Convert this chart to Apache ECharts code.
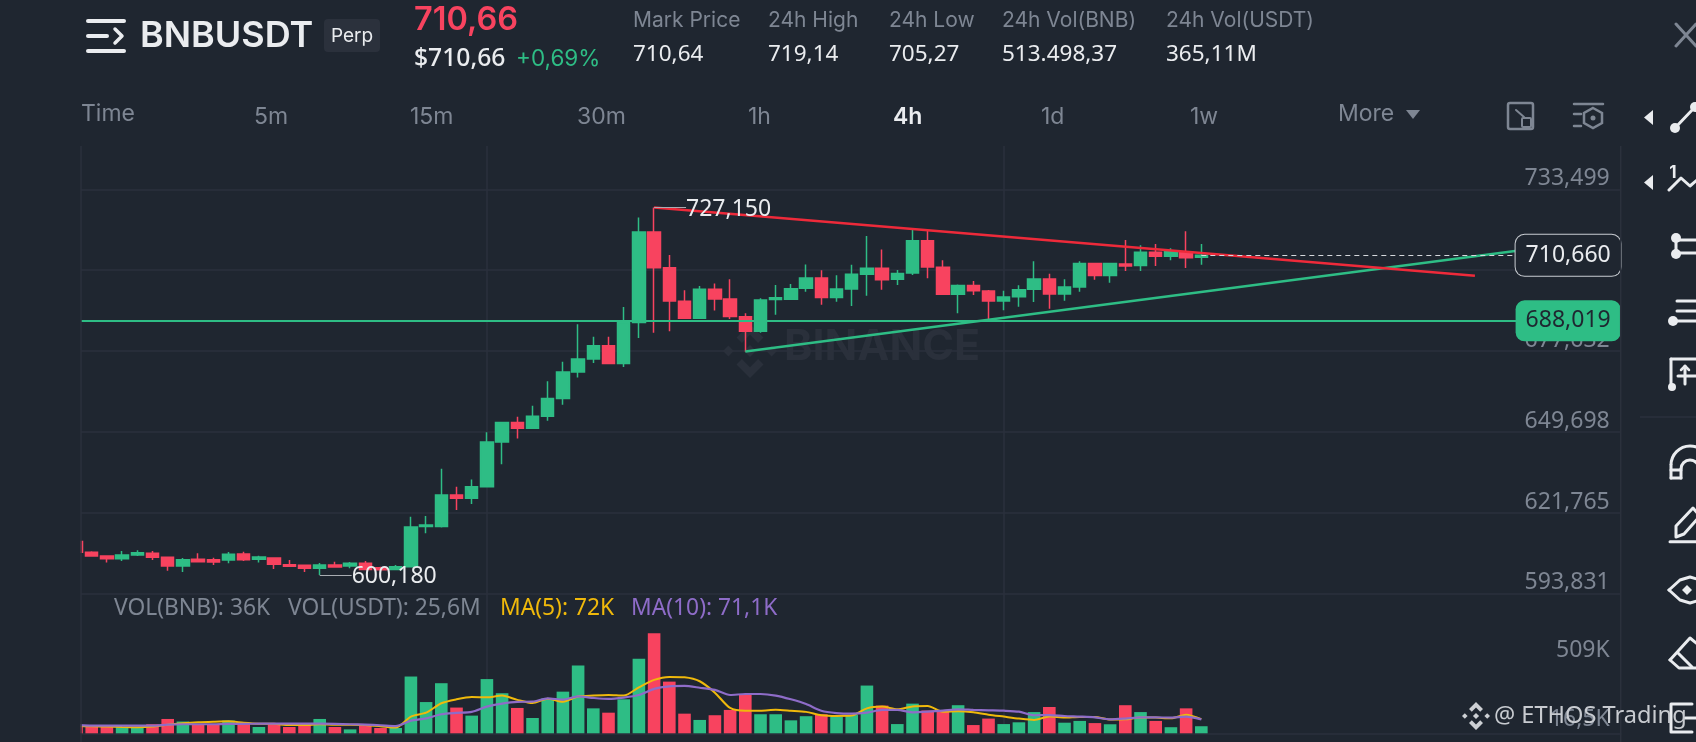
<!DOCTYPE html>
<html><head><meta charset="utf-8">
<style>html,body{margin:0;padding:0;background:#1f2630;}#c{width:1696px;height:742px;}</style>
<script src="https://cdn.jsdelivr.net/npm/echarts@6/dist/echarts.min.js"></script>
</head><body><div id="c"></div>
<script>
const opens=[611.7,608.0,606.7,605.8,607.07,607.64,606.26,603.27,605.6,605.45,605.34,607.4,605.6,606.0,603.7,603.5,602.46,603.6,603.27,604.2,602.7,602.1,603.0,616.9,616.9,627.8,626.65,630.7,646.1,652.9,650.85,655.0,661.2,670.3,674.8,679.4,673.3,687.4,718.7,706.4,694.75,688.9,698.9,695.6,689.45,684.4,695.4,695.45,699.25,702.8,696.1,699.0,704.1,706.2,702.35,704.55,715.7,706.5,697.2,700.2,698.3,694.9,696.35,698.9,702.45,697.3,699.7,707.8,703.65,707.7,707.1,711.7,710.3,711.9,710.0];
const closes=[608.0,606.72,605.8,607.07,607.87,606.26,603.27,605.45,604.76,604.65,607.3,605.45,606.4,603.84,603.15,602.46,603.6,602.9,604.2,602.1,602.0,603.0,616.74,617.4,627.8,626.65,630.7,646.1,652.9,650.85,655.0,661.2,670.3,674.8,679.4,673.3,687.4,718.7,706.4,694.9,688.9,698.9,695.6,689.55,684.4,695.2,696.0,699.1,702.8,696.1,699.0,704.1,706.2,702.25,704.4,715.7,706.6,697.2,700.2,698.45,694.9,696.25,698.8,702.45,697.3,699.7,707.8,703.65,707.8,707.0,711.7,710.3,711.9,709.85,710.66];
const lows=[608.0,606.49,604.5,605.0,606.72,605.34,601.65,601.19,604.53,603.6,604.2,605.0,604.5,602.2,603.15,601.2,600.18,602.9,602.46,602.0,601.8,601.9,603.0,614.55,616.6,622.6,624.7,630.7,638.4,647.3,650.6,653.5,659.0,668.4,673.4,673.2,672.05,682.1,683.9,684.4,688.8,688.8,691.6,688.65,677.35,683.9,690.15,695.4,698.1,693.6,694.6,693.15,696.7,698.8,700.4,703.85,702.7,697.2,690.6,696.95,688.5,691.65,692.9,694.5,692.2,695.0,698.1,702.25,701.2,705.25,705.25,707.0,709.0,706.3,707.4];
const highs=[611.7,608.33,606.7,608.45,608.68,608.45,606.26,606.03,607.64,606.14,608.1,608.2,606.8,606.0,605.3,603.5,604.3,604.76,604.65,605.0,603.0,603.6,620.3,620.55,636.9,630.7,633.2,649.5,652.9,654.9,658.7,667.1,673.9,686.8,682.5,682.5,692.8,723.7,727.15,710.8,698.6,700.05,700.9,702.35,690.6,695.8,700.4,700.75,707.5,705.5,703.75,707.4,717.35,712.7,705.6,719.4,719.05,709.0,700.6,701.8,698.7,698.45,700.3,708.6,704.3,702.35,708.6,707.9,708.1,715.95,714.1,714.55,713.1,718.95,714.55];
const volumes=[37,37,36,31,29,46,73,60,47,47,65,54,32,47,32,42,73,32,20,44,27,27,289,159,255,131,90,276,204,129,78,178,212,345,127,105,173,380,509,263,100,68,92,119,195,97,97,66,87,97,83,93,243,141,47,151,116,116,143,42,75,47,56,108,134,54,63,52,46,143,108,63,31,127,36];
const ma5=[37,36,34,32,31,34,44,51,56,59,61,54,49,48,42,42,46,44,44,42,36,29,85,105,153,173,185,183,192,170,154,176,161,187,192,195,192,234,272,287,285,265,207,129,115,115,120,115,109,92,88,90,127,136,122,137,139,110,112,107,95,85,75,68,85,80,83,83,70,71,81,80,76,95,72];
const ma10=[42,39,39,39,39,39,44,46,46,46,48,48,49,49,49,49,49,48,46,44,41,37,64,76,97,104,109,136,151,160,161,178,171,188,180,175,182,195,226,239,241,232,221,195,200,200,192,173,149,115,103,100,105,119,119,107,110,115,122,119,117,115,110,92,93,88,85,81,71,75,81,81,80,85,71.1];
const priceTicks=[593.831,621.765,649.698,677.632,705.566,733.499];
const volTicks=[16.5,509];
const volTickLabels=['16,5K','509K'];
const timeSplits=[27,61];
const lastPrice=710.66, alertPrice=688.019, peak=727.15, trough=600.18;
const peakIndex=38, troughIndex=16, lastIndex=74;
const redTrend=[[38,727.15],[92,703.6]];
const greenTrend=[[44,677.4],[95.4,712.7]];

const GREEN='#2EBD85',RED='#F8435F',BG='#1F2630',GRID='#2B313C',GRAY='#7E8693',WHITE='#EAECEF';
const FONT='Inter, "Noto Sans", sans-serif', NOTO='"Noto Sans", sans-serif';
const xMin=0.296,xMax=101.59;
const fmt3=v=>v.toFixed(3).replace('.',',');

const candleData=opens.map((o,i)=>[i,o,closes[i],lows[i],highs[i]]);
const volData=volumes.map((v,i)=>({value:[i,v],itemStyle:{color:closes[i]>=opens[i]?GREEN:RED}}));

const T=(text,x,y,size,fill,extra={})=>({type:'text',z:50,style:Object.assign({text,x,y,fill,font:`${extra.weight||400} ${size}px ${extra.font||FONT}`,textAlign:extra.align||'left',textVerticalAlign:'middle'},extra.style||{})});
const L=(x1,y1,x2,y2,c=WHITE,w=3)=>({type:'line',z:50,shape:{x1,y1,x2,y2},style:{stroke:c,lineWidth:w,lineCap:'round'}});
const C=(cx,cy,r,c=WHITE)=>({type:'circle',z:50,shape:{cx,cy,r},style:{fill:c}});
const P=(points,c=WHITE,w=3)=>({type:'polyline',z:50,shape:{points},style:{stroke:c,lineWidth:w,fill:null,lineCap:'round',lineJoin:'round'}});
const F=(points,c=WHITE,z=50)=>({type:'polygon',z,shape:{points},style:{fill:c}});
const R=(x,y,w,h,r,fill,stroke,lw=2)=>({type:'rect',z:50,shape:{x,y,width:w,height:h,r},style:{fill:fill||null,stroke:stroke||null,lineWidth:lw}});
const A=(cx,cy,r,c=WHITE,w=3)=>({type:'arc',z:50,shape:{cx,cy,r,startAngle:Math.PI,endAngle:0,clockwise:true},style:{stroke:c,lineWidth:w,fill:null}});
const logo=(cx,cy,s,c,z)=>[
  F([[cx,cy-s],[cx+s*.5,cy-s*.5],[cx+s*.3,cy-s*.3],[cx,cy-s*.6],[cx-s*.3,cy-s*.3],[cx-s*.5,cy-s*.5]],c,z),
  F([[cx,cy+s],[cx+s*.5,cy+s*.5],[cx+s*.3,cy+s*.3],[cx,cy+s*.6],[cx-s*.3,cy+s*.3],[cx-s*.5,cy+s*.5]],c,z),
  F([[cx-s,cy],[cx-s*.8,cy-s*.2],[cx-s*.6,cy],[cx-s*.8,cy+s*.2]],c,z),
  F([[cx+s,cy],[cx+s*.8,cy-s*.2],[cx+s*.6,cy],[cx+s*.8,cy+s*.2]],c,z),
  F([[cx,cy-s*.22],[cx+s*.22,cy],[cx,cy+s*.22],[cx-s*.22,cy]],c,z)];

const graphicEls=[
 // mask for the first candle and bar, which the chart crops at its left edge
 {type:'rect',z:40,shape:{x:0,y:140,width:80.4,height:602},style:{fill:BG}},
 // watermark
 ...logo(750,351,27,'#2A303B',0),
 {type:'text',z:0,style:{text:'BINANCE',x:784,y:347,fill:'#2A303B',font:'700 43px Inter, sans-serif',textVerticalAlign:'middle'}},
 // borders
 {type:'line',z:41,shape:{x1:81,y1:146,x2:81,y2:742},style:{stroke:GRID,lineWidth:1.5}},
 {type:'line',z:41,shape:{x1:1620.7,y1:146,x2:1620.7,y2:742},style:{stroke:GRID,lineWidth:1.5}},
 // header
 L(88,21,124,21,WHITE,4),L(88,36,107,36,WHITE,4),L(88,51,124,51,WHITE,4),P([[115,29],[122,36],[115,43]],WHITE,3.5),
 T('BNBUSDT',140,36,36,WHITE,{weight:600}),
 R(324,19,56,33,4,'#2B313C'),
 T('Perp',352,36,19,WHITE,{align:'center'}),
 T('710,66',414,20,32.5,RED,{weight:600}),
 T('$710,66',414,59,24.7,WHITE,{weight:500,font:NOTO}),
 T('+0,69%',516,59,22.5,GREEN),
 ...[['Mark Price','710,64',633],['24h High','719,14',768],['24h Low','705,27',889],['24h Vol(BNB)','513.498,37',1002],['24h Vol(USDT)','365,11M',1166]]
   .flatMap(([a,b,x])=>[T(a,x,21,21,GRAY),T(b,x,54.5,22.5,WHITE,{font:NOTO})]),
 // tabs
 T('Time',81,114,23,GRAY),T('More',1338,114,23,GRAY),
 ...[['5m',254],['15m',410],['30m',577],['1h',748],['1d',1041],['1w',1190]].map(([t,x])=>T(t,x,117,23,GRAY)),
 T('4h',893,117,23,WHITE,{weight:600}),
 F([[1406,110],[1420,110],[1413,119]],GRAY),
 // screen icons
 R(1508,103,25,26,2,null,GRAY,2.5),R(1522,118,9,9,1,null,GRAY,2),P([[1516,110],[1524,117]],GRAY,2),
 L(1574,104,1603,104,GRAY,2.5),
 {type:'polygon',z:50,shape:{points:[[1593,108],[1602,113],[1602,123],[1593,128],[1584,123],[1584,113]]},style:{fill:null,stroke:GRAY,lineWidth:2.5}},
 C(1593,118,2.5,GRAY),
 L(1574,114,1581,114,GRAY,2.5),L(1574,126,1581,126,GRAY,2.5),
 // close X
 L(1676,24,1696,46,GRAY,3),L(1696,24,1676,46,GRAY,3),
 // right toolbar
 F([[1653,110],[1653,125],[1644,117.5]],WHITE),
 L(1675,128,1695,107),C(1675,128,5),C(1695,107,5),
 F([[1653,175],[1653,190],[1644,182.5]],WHITE),
 T('1',1673,173,17,WHITE,{weight:700,align:'center'}),P([[1669,190],[1681,178],[1690,186],[1697,180]]),
 L(1676,240,1697,240),L(1676,253,1697,253),L(1676,238,1676,254),C(1676,238,5),C(1676,254,5),
 L(1677,301,1696,301),L(1677,311,1696,311),L(1673,321,1696,321),C(1673,321,5),
 L(1671,359,1696,359),L(1671,359,1671,386),L(1685,366,1685,384),L(1678,376,1696,376),P([[1681,370],[1685,366],[1689,370]],WHITE,2.5),C(1672,387,4),
 {type:'line',z:50,shape:{x1:1640,y1:417,x2:1696,y2:417},style:{stroke:GRID,lineWidth:1.5}},
 // magnet
 A(1690,465,19),A(1690,469,9),L(1671,465,1671,478),L(1681,469,1681,478),L(1671,478,1681,478),L(1671,470,1681,470),L(1699,469,1699,478),
 // pen
 P([[1676,537],[1676,526],[1693,508],[1700,516],[1684,534],[1676,537]]),L(1670,541.7,1696,541.7),
 // eye
 P([[1669,590],[1680,580],[1690,577],[1697,579]]),P([[1669,590],[1680,600],[1690,603],[1697,601]]),
 F([[1687,585],[1692,590],[1687,595],[1682,590]],WHITE),
 // eraser
 P([[1670,660],[1690,638],[1700,646]]),P([[1670,660],[1679,668],[1697,668]]),L(1678,653,1692,667),
 // exit icon
 P([[1692,704],[1671,704],[1671,732],[1692,732]]),L(1685,718,1696,718),
 // volume legend
 T('VOL(BNB): 36K',114,609,22.8,GRAY,{font:NOTO}),
 T('VOL(USDT): 25,6M',288,609,22.8,GRAY,{font:NOTO}),
 T('MA(5): 72K',500,609,22.8,'#F0B90B',{font:NOTO}),
 T('MA(10): 71,1K',631,609,22.8,'#8E6CC8',{font:NOTO}),
 // attribution
 ...logo(1476,716,14,'#CDD0D4',60),
 {type:'text',z:60,style:{text:'@ ETHOS Trading',x:1494,y:716,fill:'#C8CBD0',font:'400 23.6px "Noto Sans", sans-serif',textVerticalAlign:'middle'}}
];

const hidden={show:false};
const option={
 backgroundColor:BG,animation:false,
 grid:[{left:81,top:146,width:1539.7,height:447.3},{left:81,top:593.3,width:1539.7,height:140}],
 xAxis:[
  {type:'value',gridIndex:0,min:xMin,max:xMax,axisLine:hidden,axisLabel:hidden,axisTick:{show:false,customValues:timeSplits},splitLine:{show:true,lineStyle:{color:GRID,width:1.5}}},
  {type:'value',gridIndex:1,min:xMin,max:xMax,axisLine:{show:true,onZero:false,lineStyle:{color:GRID,width:1.5}},axisLabel:hidden,axisTick:{show:false,customValues:timeSplits},splitLine:{show:true,lineStyle:{color:GRID,width:1.5}}}
 ],
 yAxis:[
  {type:'value',gridIndex:0,position:'right',min:593.831,max:748.45,scale:true,axisLine:hidden,
   axisTick:{show:false,customValues:priceTicks},
   axisLabel:{inside:true,margin:11,customValues:priceTicks,color:GRAY,fontSize:23,lineHeight:21,fontFamily:NOTO,verticalAlignMinLabel:'bottom',verticalAlign:'bottom',formatter:fmt3,showMinLabel:true,showMaxLabel:true},
   splitLine:{show:true,lineStyle:{color:GRID,width:1.5}}},
  {type:'value',gridIndex:1,position:'right',min:0,max:712.6,axisLine:hidden,
   axisTick:{show:false,customValues:volTicks},
   axisLabel:{inside:true,margin:11,customValues:volTicks,color:GRAY,fontSize:23,fontFamily:NOTO,verticalAlign:'middle',
    formatter:v=>(v===509?'{top|':'{bot|')+volTickLabels[volTicks.indexOf(v)]+'}',
    rich:{top:{color:GRAY,fontSize:23,fontFamily:NOTO,padding:[34,0,0,0]},bot:{color:GRAY,fontSize:23,fontFamily:NOTO,padding:[0,0,22,0]}}},
   splitLine:hidden}
 ],
 series:[
  {type:'candlestick',xAxisIndex:0,yAxisIndex:0,z:2,barWidth:13,clip:true,data:candleData,encode:{x:0,y:[1,2,3,4]},
   itemStyle:{color:GREEN,color0:RED,borderColor:GREEN,borderColor0:RED,borderWidth:1.5}},
  {type:'line',name:'redTrend',xAxisIndex:0,yAxisIndex:0,z:6,data:redTrend,symbol:'none',lineStyle:{color:'#EE2A3A',width:2.5}},
  {type:'line',name:'greenTrend',xAxisIndex:0,yAxisIndex:0,z:4,data:greenTrend,symbol:'none',lineStyle:{color:GREEN,width:2.5}},
  {type:'line',name:'levels',xAxisIndex:0,yAxisIndex:0,z:7,data:[[lastIndex,lastPrice]],symbol:'none',lineStyle:{width:0},
   markLine:{silent:true,symbol:'none',animation:false,z:7,data:[
    [{coord:[lastIndex,lastPrice],lineStyle:{color:'#D5D8DC',width:1.2,type:[5,4]},
      label:{show:true,position:'insideEnd',distance:0,formatter:fmt3(lastPrice),color:WHITE,fontSize:23,fontFamily:NOTO,backgroundColor:BG,borderColor:'#C9CDD2',borderWidth:1,borderRadius:9,padding:[9,10,9,10]}},{coord:[xMax,lastPrice]}],
    [{coord:[xMin,alertPrice],lineStyle:{color:GREEN,width:2.2,type:'solid'},
      label:{show:true,position:'insideEnd',distance:0,formatter:fmt3(alertPrice),color:'#1F2630',fontSize:23,fontFamily:NOTO,backgroundColor:GREEN,borderRadius:9,padding:[9,10,9,10]}},{coord:[xMax,alertPrice]}],
    [{coord:[peakIndex,peak],lineStyle:{color:'#A8ACB2',width:1.2,type:'solid'},
      label:{show:true,position:'end',distance:0,offset:[0,2],formatter:fmt3(peak),color:WHITE,fontSize:23,fontFamily:NOTO}},{coord:[peakIndex+2.1,peak]}],
    [{coord:[troughIndex,trough],lineStyle:{color:'#A8ACB2',width:1.2,type:'solid'},
      label:{show:true,position:'end',distance:0,offset:[0,2],formatter:fmt3(trough),color:WHITE,fontSize:23,fontFamily:NOTO}},{coord:[troughIndex+2.1,trough]}]
   ]}},
  {type:'bar',xAxisIndex:1,yAxisIndex:1,z:2,barWidth:12.6,clip:true,data:volData,encode:{x:0,y:1}},
  {type:'line',name:'MA5',xAxisIndex:1,yAxisIndex:1,z:3,data:ma5.map((v,i)=>[i,v]),symbol:'none',smooth:0.25,lineStyle:{color:'#F0B90B',width:2}},
  {type:'line',name:'MA10',xAxisIndex:1,yAxisIndex:1,z:4,data:ma10.map((v,i)=>[i,v]),symbol:'none',smooth:0.25,lineStyle:{color:'#8E6CC8',width:2.2}}
 ],
 graphic:{elements:graphicEls}
};
const chart=echarts.init(document.getElementById('c'),null,{renderer:'canvas'});
chart.setOption(option);
</script></body></html>
